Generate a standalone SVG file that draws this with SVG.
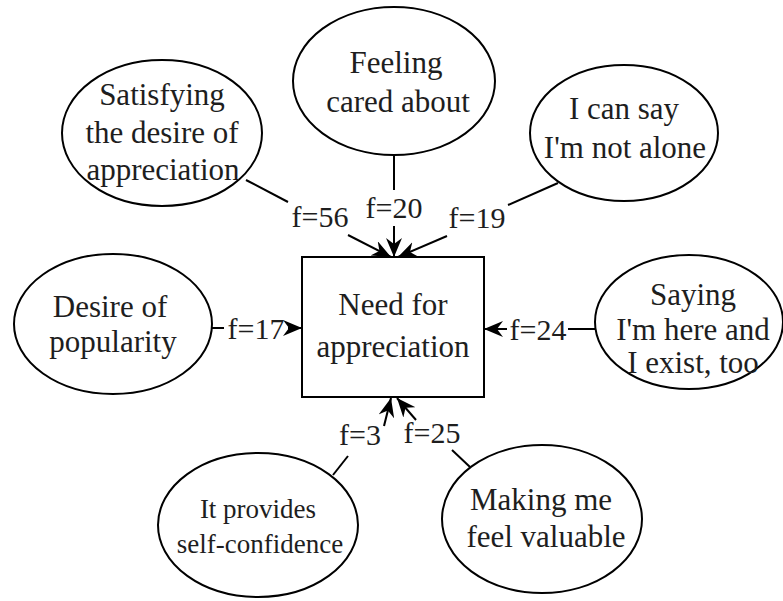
<svg xmlns="http://www.w3.org/2000/svg" width="783" height="601" viewBox="0 0 783 601">
  <style>
    .node ellipse, .node rect { fill: #ffffff; stroke: #000000; stroke-width: 2; }
    text { font-family: "Liberation Serif", "Times New Roman", serif; fill: #1e1e1e; text-anchor: middle; }
    .t { font-size: 31px; }
    .s { font-size: 27px; }
    .lab { font-size: 30px; }
    .edges line { stroke: #000000; stroke-width: 2; fill: none; }
  </style>
  <defs>
    <marker id="arr" markerUnits="userSpaceOnUse" markerWidth="20" markerHeight="16" refX="19" refY="8" orient="auto">
      <path d="M0,0 L19,8 L0,16 L6,8 Z" fill="#000000"/>
    </marker>
  </defs>
  <rect x="0" y="0" width="783" height="601" fill="#ffffff"/>

  <g id="n-center" class="node">
    <rect x="302" y="257" width="182" height="140"/>
    <text class="t" x="393" y="315">Need for</text>
    <text class="t" x="393" y="357">appreciation</text>
  </g>

  <g id="n-satisfying" class="node">
    <ellipse cx="162" cy="133" rx="100" ry="73"/>
    <text class="t" x="162" y="105">Satisfying</text>
    <text class="t" x="162" y="143">the desire of</text>
    <text class="t" x="163" y="180">appreciation</text>
  </g>

  <g id="n-feeling" class="node">
    <ellipse cx="394" cy="81" rx="101" ry="74"/>
    <text class="t" x="396" y="73">Feeling</text>
    <text class="t" x="398" y="112">cared about</text>
  </g>

  <g id="n-alone" class="node">
    <ellipse cx="624" cy="133" rx="94" ry="68"/>
    <text class="t" x="624" y="119">I can say</text>
    <text class="t" x="625" y="158">I'm not alone</text>
  </g>

  <g id="n-popularity" class="node">
    <ellipse cx="113" cy="324" rx="99" ry="70"/>
    <text class="t" x="110" y="317">Desire of</text>
    <text class="t" x="113" y="352">popularity</text>
  </g>

  <g id="n-saying" class="node">
    <ellipse cx="689" cy="322" rx="94" ry="67"/>
    <text class="t" x="693" y="305">Saying</text>
    <text class="t" x="693" y="340">I'm here and</text>
    <text class="t" x="693" y="373">I exist, too</text>
  </g>

  <g id="n-confidence" class="node">
    <ellipse cx="258" cy="525" rx="100" ry="72"/>
    <text class="s" x="258" y="518">It provides</text>
    <text class="s" x="260" y="553">self-confidence</text>
  </g>

  <g id="n-valuable" class="node">
    <ellipse cx="542" cy="519" rx="100" ry="74"/>
    <text class="t" x="541" y="510">Making me</text>
    <text class="t" x="546" y="547">feel valuable</text>
  </g>

  <g id="edges" class="edges">
    <line x1="246" y1="180" x2="288" y2="202"/>
    <line x1="348" y1="235" x2="391" y2="257" marker-end="url(#arr)"/>
    <text class="lab" x="320" y="227">f=56</text>

    <line x1="394" y1="155" x2="394" y2="190"/>
    <line x1="394" y1="226" x2="394" y2="257" marker-end="url(#arr)"/>
    <text class="lab" x="394" y="218">f=20</text>

    <line x1="558" y1="183" x2="508" y2="205"/>
    <line x1="447" y1="236" x2="398" y2="257" marker-end="url(#arr)"/>
    <text class="lab" x="477" y="228">f=19</text>

    <line x1="212" y1="328" x2="224" y2="328"/>
    <line x1="288" y1="328" x2="302" y2="328" marker-end="url(#arr)"/>
    <text class="lab" x="256" y="339">f=17</text>

    <line x1="595" y1="329" x2="568" y2="329"/>
    <line x1="507" y1="329" x2="484" y2="329" marker-end="url(#arr)"/>
    <text class="lab" x="538" y="340">f=24</text>

    <line x1="333" y1="475" x2="348" y2="456"/>
    <line x1="384" y1="426" x2="391" y2="398" marker-end="url(#arr)"/>
    <text class="lab" x="360" y="445">f=3</text>

    <line x1="470" y1="467" x2="452" y2="450"/>
    <line x1="416" y1="420" x2="397" y2="398" marker-end="url(#arr)"/>
    <text class="lab" x="432" y="443">f=25</text>
  </g>
</svg>
